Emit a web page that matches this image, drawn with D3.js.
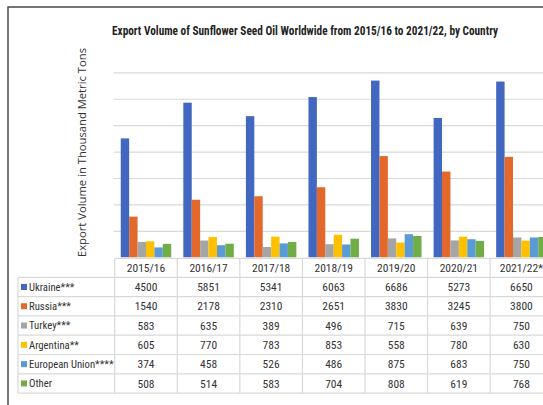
<!DOCTYPE html>
<html>
<head>
<meta charset="utf-8">
<script src="https://cdn.jsdelivr.net/npm/d3@7/dist/d3.min.js"></script>
<style>
  html, body { margin: 0; padding: 0; background: #fff; }
  svg { display: block; }
  .narrow { font-family: "Liberation Sans Narrow", "Arial Narrow", "Roboto Condensed", "Liberation Sans", sans-serif; }
</style>
</head>
<body>
<svg id="chart" width="543" height="405"></svg>
<script>
// Season labels (x categories) and the export volume of each exporter, thousand metric tons
const seasons = ["2015/16", "2016/17", "2017/18", "2018/19", "2019/20", "2020/21", "2021/22*"];
const seriesNames = ["Ukraine***", "Russia***", "Turkey***", "Argentina**", "European Union****", "Other"];
const ukraine   = [4500, 5851, 5341, 6063, 6686, 5273, 6650];
const russia    = [1540, 2178, 2310, 2651, 3830, 3245, 3800];
const turkey    = [583, 635, 389, 496, 715, 639, 750];
const argentina = [605, 770, 783, 853, 558, 780, 630];
const eu        = [374, 458, 526, 486, 875, 683, 750];
const other     = [508, 514, 583, 704, 808, 619, 768];
const seriesColors = ["#4267C1", "#E2682C", "#A5A5A5", "#FFC000", "#5B9BD5", "#70AD47"];

const seriesValues = [ukraine, russia, turkey, argentina, eu, other];
const series = seriesNames.map((name, i) => ({ name, values: seriesValues[i], color: seriesColors[i] }));

const svg = d3.select("#chart");

// Outer frame of the chart object
svg.append("path")
  .attr("d", "M8,405 L8,7 L543,7")
  .attr("fill", "none").attr("stroke", "#4a4a4a").attr("stroke-width", 1.5);

// Scales
const plotLeft = 114.7, colW = 62.57;
const plotTop = 72.3, plotBottom = 257.3;
const x0 = d3.scaleBand().domain(seasons).range([plotLeft, plotLeft + colW * seasons.length]).padding(0);
const x1 = d3.scaleBand().domain(seriesNames).range([0, x0.bandwidth()]).paddingInner(0).paddingOuter(0.72);
const y = d3.scaleLinear().domain([0, 7000]).range([plotBottom, plotTop]);

// Horizontal gridlines
const grid = svg.append("g")
  .attr("transform", `translate(${plotLeft - 1},0)`)
  .call(d3.axisLeft(y).tickValues(d3.range(1000, 7001, 1000)).tickSize(-(560 - plotLeft)).tickFormat(""));
grid.select(".domain").remove();
grid.selectAll(".tick line").attr("stroke", "#d9d9d9").attr("stroke-width", 1.2);

// Bars
const groups = svg.append("g").selectAll("g")
  .data(seasons)
  .join("g")
  .attr("transform", d => `translate(${x0(d)},0)`);

groups.selectAll("rect")
  .data((d, i) => series.map(s => ({ name: s.name, value: s.values[i], color: s.color })))
  .join("rect")
  .attr("x", d => x1(d.name))
  .attr("width", x1.bandwidth())
  .attr("y", d => y(d.value))
  .attr("height", d => y(0) - y(d.value))
  .attr("fill", d => d.color);

// Data table under the plot
const rowH = 19.3;
const headTop = 258.3, headBottom = 277.3;
const tableLeft = 18;
const tableRight = 560;
const tableBottom = headBottom + rowH * series.length;
const lineCol = "#d9d9d9";
const textCol = "#333333";
const table = svg.append("g");

// horizontal rules
table.append("line").attr("x1", plotLeft).attr("x2", tableRight).attr("y1", headTop).attr("y2", headTop)
  .attr("stroke", lineCol).attr("stroke-width", 1.2);
d3.range(series.length + 1).forEach(i => {
  const yy = headBottom + i * rowH;
  table.append("line").attr("x1", tableLeft).attr("x2", tableRight).attr("y1", yy).attr("y2", yy)
    .attr("stroke", lineCol).attr("stroke-width", 1.2);
});
// vertical rules
table.append("line").attr("x1", tableLeft).attr("x2", tableLeft).attr("y1", headBottom).attr("y2", tableBottom)
  .attr("stroke", lineCol).attr("stroke-width", 1.2);
seasons.forEach(s => {
  const xx = x0(s);
  table.append("line").attr("x1", xx).attr("x2", xx).attr("y1", headTop).attr("y2", tableBottom)
    .attr("stroke", lineCol).attr("stroke-width", 1.2);
});

// header labels
table.selectAll("text.head")
  .data(seasons)
  .join("text")
  .attr("class", "head narrow")
  .attr("x", d => x0(d) + x0.bandwidth() / 2)
  .attr("y", (headTop + headBottom) / 2)
  .attr("dy", "0.36em")
  .attr("text-anchor", "middle")
  .attr("font-size", 11.5)
  .attr("fill", textCol)
  .text(d => d);

// rows: legend key, name, values
series.forEach((s, r) => {
  const cy = headBottom + r * rowH + rowH / 2;
  table.append("rect").attr("x", 21).attr("y", cy - 3).attr("width", 6).attr("height", 6).attr("fill", s.color);
  table.append("text").attr("class", "narrow")
    .attr("x", 29).attr("y", cy).attr("dy", "0.36em")
    .attr("font-size", 10.7).attr("fill", textCol)
    .text(s.name);
  seasons.forEach((season, i) => {
    table.append("text").attr("class", "narrow")
      .attr("x", x0(season) + x0.bandwidth() / 2).attr("y", cy).attr("dy", "0.36em")
      .attr("text-anchor", "middle")
      .attr("font-size", 11.5).attr("fill", textCol)
      .text(s.values[i]);
  });
});

// Title
svg.append("text")
  .attr("class", "narrow")
  .attr("x", 112).attr("y", 30).attr("dy", "0.36em")
  .attr("font-size", 12.5).attr("font-weight", "bold").attr("fill", "#1f1f1f")
  .attr("textLength", 386).attr("lengthAdjust", "spacingAndGlyphs")
  .text("Export Volume of Sunflower Seed Oil Worldwide from 2015/16 to 2021/22, by Country");

// Y axis title
svg.append("text")
  .attr("transform", "translate(82,152.5) rotate(-90)")
  .attr("text-anchor", "middle").attr("dy", "0.36em")
  .attr("font-family", "'Open Sans', 'Liberation Sans', sans-serif")
  .attr("font-size", 10.5).attr("fill", textCol)
  .attr("textLength", 209).attr("lengthAdjust", "spacingAndGlyphs")
  .text("Export Volume in Thousand Metric Tons");
</script>
</body>
</html>
